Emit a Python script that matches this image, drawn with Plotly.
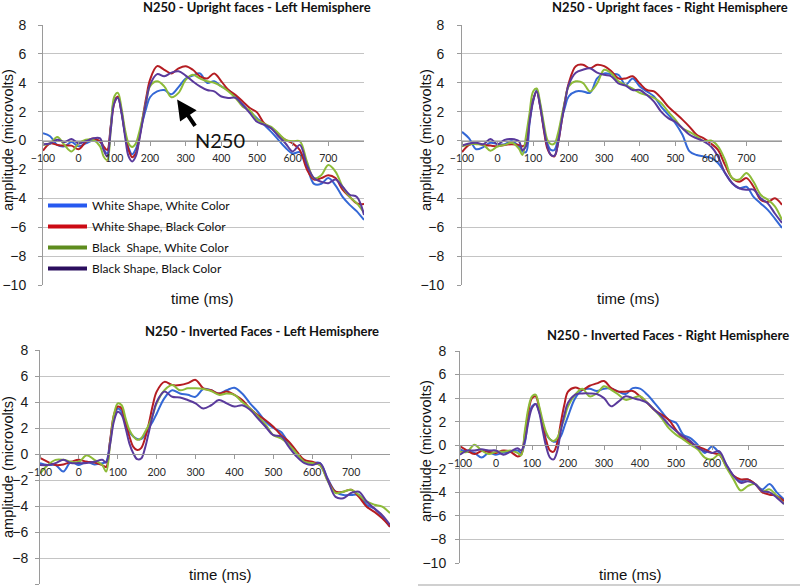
import plotly.graph_objects as go

# ---------------- data ----------------
time_ms = [-100, -80, -60, -40, -20, 0, 20, 40, 60, 70, 80, 90, 100, 110, 120, 130, 140,
           150, 160, 170, 180, 190, 200, 220, 240, 260, 280, 300, 320, 340, 360, 380,
           400, 420, 440, 460, 480, 500, 520, 540, 560, 580, 600, 620, 640, 660, 680,
           700, 720, 740, 760, 780, 800]

series_names = ["White Shape, White Color", "White Shape, Black Color",
                "Black  Shape, White Color", "Black Shape, Black Color"]

panel_titles = ["N250 - Upright faces - Left Hemisphere",
                "N250 - Upright faces - Right Hemisphere",
                "N250 - Inverted Faces - Left Hemisphere",
                "N250 - Inverted Faces - Right Hemisphere"]

x_tick_vals = [-100, 0, 100, 200, 300, 400, 500, 600, 700]
y_tick_vals = [-10, -8, -6, -4, -2, 0, 2, 4, 6, 8]

# Upright faces - Left hemisphere
ul_ww = [0.5, 0.3, -0.3, -0.4, -0.1, -0.4, -0.2, 0.0, -0.1,
         -0.6, -0.9, 1.0, 2.8, 3.0, 1.9, 0.5, -0.5, -0.95, -0.6, 0.3, 1.4, 2.3, 3.0,
         3.4, 3.5, 3.2, 3.7, 4.3, 4.5, 4.65, 4.0, 4.1, 3.75, 3.5, 3.05, 2.5, 2.0, 1.55,
         1.1, 0.6, 0.05, -0.5, -0.9, -0.8, -1.8, -3.0, -3.0, -2.6, -3.1, -3.9, -4.45, -4.9, -5.5]
ul_wb = [-0.7, -0.2, -0.3, -0.35, -0.35, -0.6, -0.1, 0.15, -0.05,
         -0.4, -0.65, 1.0, 2.6, 3.05, 2.0, 0.5, -0.65, -1.15, -0.9, 0.15, 1.65, 3.05, 4.2,
         5.15, 4.9, 4.65, 5.0, 5.15, 4.9, 4.45, 4.3, 4.65, 4.1, 3.5, 3.15, 2.7, 2.25, 1.95,
         1.2, 0.85, 0.4, 0.05, -0.2, -0.65, -2.0, -2.7, -2.6, -2.4, -2.6, -3.4, -3.9, -4.35, -4.4]
ul_bw = [-0.3, -0.2, 0.25, -0.3, -0.75, -0.2, 0.05, 0.05, -0.4,
         -1.1, -1.35, 0.75, 3.05, 3.3, 2.25, 0.75, -0.2, -0.45, -0.2, 0.6, 1.65, 2.8, 3.75,
         4.1, 3.75, 3.0, 3.3, 4.2, 4.55, 4.3, 4.1, 4.0, 3.75, 3.4, 2.95, 2.35, 2.1, 1.45,
         1.15, 0.95, 0.5, 0.05, -0.05, -0.05, -1.45, -2.6, -2.4, -1.7, -2.15, -3.2, -3.9, -4.35, -5.0]
ul_bb = [-0.25, -0.2, 0.05, -0.1, 0.1, -0.2, -0.05, 0.15, 0.15,
         -0.65, -1.1, 0.75, 2.6, 2.95, 2.0, 0.3, -1.1, -1.45, -1.1, 0.05, 1.45, 2.8, 3.85,
         4.6, 4.45, 4.7, 4.8, 4.5, 4.1, 3.75, 3.5, 3.4, 3.05, 2.95, 2.95, 2.45, 1.9, 1.3,
         1.1, 0.85, 0.3, -0.2, -0.75, -0.3, -1.7, -2.6, -2.85, -2.95, -2.7, -3.2, -3.75, -3.9, -5.15]

# Upright faces - Right hemisphere
ur_ww = [0.6, 0.15, -0.6, -0.45, -0.15, -0.25, -0.25, -0.05, -0.4,
         -0.75, -0.8, 1.2, 2.7, 3.5, 2.45, 0.95, -0.2, -0.65, -0.65, 0.15, 1.45, 2.35, 3.05,
         3.4, 3.4, 3.3, 4.3, 4.65, 4.6, 4.55, 3.85, 4.3, 3.75, 3.4, 3.05, 2.35, 1.8, 1.2,
         0.4, -0.75, -1.0, -1.1, -1.2, -1.55, -2.25, -2.95, -3.3, -3.2, -3.9, -4.35, -4.8, -5.4, -6.05]
ur_wb = [-0.8, -0.3, -0.2, -0.3, -0.35, -0.4, -0.3, -0.25, -0.3,
         -0.4, -0.2, 1.45, 2.8, 3.4, 2.35, 0.75, -0.55, -1.0, -1.1, -0.2, 1.3, 2.8, 3.95,
         5.15, 5.25, 5.0, 5.25, 5.15, 4.8, 4.3, 4.3, 4.45, 3.95, 3.5, 3.4, 2.95, 2.35, 1.9,
         1.45, 0.95, 0.4, 0.15, -0.2, -0.65, -1.7, -2.6, -2.85, -2.6, -3.2, -4.1, -4.25, -4.0, -4.45]
ur_bw = [-0.4, -0.25, -0.25, -0.3, -0.7, -0.4, -0.3, -0.15, -0.55,
         -1.0, 0.3, 1.9, 3.4, 3.6, 2.6, 1.2, 0.05, -0.25, -0.2, 0.5, 1.65, 2.8, 3.75,
         4.1, 4.0, 3.4, 3.95, 4.9, 4.65, 4.1, 3.85, 3.6, 3.3, 3.15, 2.95, 2.6, 2.0, 1.45,
         0.85, 0.6, 0.3, -0.05, 0.0, -0.4, -1.35, -2.6, -2.7, -2.25, -2.85, -3.75, -4.1, -4.55, -5.5]
ur_bb = [-0.35, -0.2, -0.15, -0.25, 0.1, -0.25, 0.05, 0.1, -0.05,
         -0.65, -0.4, 1.3, 2.8, 3.4, 2.35, 0.85, -0.4, -1.0, -1.05, -0.2, 1.3, 2.7, 3.85,
         4.7, 4.9, 5.0, 4.7, 4.55, 4.45, 3.95, 3.8, 3.5, 3.5, 3.15, 2.7, 2.0, 1.55, 1.3,
         0.85, 0.4, 0.15, -0.05, -0.4, -1.1, -2.25, -2.95, -3.3, -3.4, -3.4, -4.0, -4.35, -5.05, -5.7]

# Inverted faces - Left hemisphere
il_ww = [-0.7, -0.85, -0.85, -1.35, -0.6, -0.85, -0.6, -0.8, -0.7,
         -0.6, 0.95, 2.75, 3.5, 3.25, 2.35, 1.7, 1.35, 1.15, 1.15, 1.45, 2.0, 2.5, 3.1,
         4.3, 4.9, 4.65, 4.55, 4.4, 5.0, 4.9, 4.65, 4.9, 5.1, 4.65, 3.9, 3.25, 2.5, 2.0,
         1.7, 0.8, 0.05, -0.6, -0.7, -0.7, -1.9, -2.9, -3.15, -3.15, -3.15, -3.9, -4.2, -4.8, -5.6]
il_wb = [-0.3, -0.6, -0.85, -0.8, -0.6, -0.45, -0.6, -0.65, -0.85,
         -1.0, 0.95, 3.0, 3.65, 3.5, 2.35, 1.35, 0.55, 0.3, 0.45, 1.2, 2.35, 3.75, 4.8,
         5.55, 5.3, 5.3, 5.45, 5.7, 5.05, 4.9, 4.65, 4.8, 4.55, 4.15, 3.5, 3.0, 2.6, 2.1,
         1.45, 0.95, 0.2, -0.45, -0.6, -0.85, -2.0, -2.9, -2.9, -2.75, -3.3, -4.05, -4.45, -4.95, -5.6]
il_bw = [-1.5, -0.85, -0.45, -0.45, -0.6, -0.6, -0.1, -0.45, -0.85,
         -1.35, 0.7, 3.0, 3.9, 3.75, 2.75, 1.85, 1.35, 1.1, 1.2, 1.7, 2.25, 3.0, 3.9,
         4.9, 5.3, 4.9, 5.05, 5.05, 5.0, 4.85, 4.55, 4.65, 4.55, 4.0, 3.5, 2.9, 2.25, 1.45,
         1.2, 0.7, 0.05, -0.6, -0.7, -0.85, -2.1, -3.0, -2.9, -2.75, -3.15, -3.65, -3.9, -4.05, -4.55]
il_bb = [-0.85, -0.85, -0.7, -0.45, -0.7, -0.7, -0.7, -0.6, -0.45,
         -0.65, 0.7, 2.5, 3.25, 3.0, 2.0, 0.8, 0.05, -0.4, -0.35, 0.45, 1.7, 3.0, 4.0,
         4.8, 4.4, 4.35, 4.15, 3.9, 3.5, 3.75, 4.15, 3.9, 3.65, 3.75, 3.4, 2.75, 2.1, 1.45,
         1.35, 0.55, -0.2, -0.7, -0.85, -0.7, -2.0, -3.3, -3.4, -3.0, -2.9, -3.65, -4.2, -4.7, -5.45]

# Inverted faces - Right hemisphere
ir_ww = [-0.35, -0.55, -0.65, -1.05, -0.65, -0.8, -0.65, -0.55, -0.45,
         -0.65, 0.2, 2.3, 3.3, 3.5, 2.85, 1.75, 0.9, 0.5, 0.3, 0.35, 0.75, 1.6, 2.45,
         4.0, 4.7, 4.8, 4.6, 4.8, 4.8, 4.55, 4.35, 4.85, 4.8, 4.3, 3.6, 2.85, 2.15, 1.9,
         0.9, 0.6, 0.05, -0.65, -0.1, -0.65, -1.65, -2.6, -3.05, -2.9, -3.3, -3.75, -3.3, -4.0, -4.6]
ir_wb = [-0.1, -0.45, -0.75, -0.5, -0.55, -0.65, -0.45, -0.55, -0.95,
         -0.8, 0.9, 2.85, 4.0, 4.15, 3.15, 1.6, 0.35, -0.45, -0.55, 0.2, 1.9, 3.45, 4.55,
         4.9, 4.7, 5.05, 5.25, 5.45, 4.85, 4.55, 4.55, 4.6, 4.15, 3.6, 3.0, 2.6, 2.15, 1.3,
         0.6, 0.2, -0.1, -0.35, -0.65, -0.8, -1.8, -2.6, -2.9, -2.9, -3.3, -4.0, -4.2, -4.3, -4.75]
ir_bw = [-0.55, -0.55, 0.05, -0.45, -0.75, -0.55, -0.55, -0.45, -0.65,
         -0.85, 1.2, 3.15, 4.15, 4.3, 3.3, 2.05, 1.05, 0.5, 0.35, 0.6, 1.45, 2.3, 3.3,
         4.3, 4.8, 4.15, 4.4, 5.0, 4.7, 4.3, 3.85, 4.0, 4.15, 3.6, 3.0, 2.3, 1.45, 0.9,
         0.5, 0.05, -0.35, -1.05, -1.2, -0.8, -1.9, -2.9, -3.85, -3.45, -3.3, -3.9, -3.75, -4.3, -5.0]
ir_bb = [-0.8, -0.45, -0.45, -0.35, -0.45, -0.45, -0.8, -0.55, -0.25,
         -0.45, 0.35, 2.0, 3.15, 3.5, 2.75, 1.2, -0.2, -1.05, -1.2, -0.5, 1.2, 2.6, 3.6,
         4.3, 4.4, 4.4, 4.35, 4.0, 3.3, 3.7, 4.15, 4.0, 3.85, 3.6, 3.0, 2.45, 1.75, 1.2,
         0.75, 0.35, -0.2, -0.5, -0.65, -0.5, -1.65, -2.6, -3.2, -3.05, -3.3, -3.9, -4.0, -4.45, -5.0]

panels_data = [
    [ul_ww, ul_wb, ul_bw, ul_bb],
    [ur_ww, ur_wb, ur_bw, ur_bb],
    [il_ww, il_wb, il_bw, il_bb],
    [ir_ww, ir_wb, ir_bw, ir_bb],
]

# ---------------- styling / layout ----------------
W, H = 800, 588
line_colors = ["#3468D6", "#B51D22", "#8DBB38", "#5A3A9C"]
legend_colors = ["#2659F0", "#CC0A14", "#5E8C1E", "#2B0E5E"]

# panel boxes in pixels: (left, right, top(y=8), bottom(y=-10))
boxes = [(43, 364, 25, 285), (462, 782, 25, 285), (40, 390, 350, 584), (460, 784, 351, 563)]
title_pos = [(257, 7), (670, 7), (262, 331), (668, 335)]
xtitle_pos = [(203, 298), (628, 298), (220, 574), (630, 574)]
ytitle_pos = [(8, 140), (426, 140), (8, 467), (426, 451)]
standoffs = [9, 10, 4, 6]

def px(x):
    return x / W

def py(y):
    return 1 - y / H

fig = go.Figure()
layout = {}
annotations = []

def label(text, x, y, font, angle=0):
    return dict(text=text, x=px(x), y=py(y), xref="paper", yref="paper",
                xanchor="center", yanchor="middle", showarrow=False,
                textangle=angle, font=font)

for i, (box, data) in enumerate(zip(boxes, panels_data)):
    n = i + 1
    xa = "x" if n == 1 else f"x{n}"
    ya = "y" if n == 1 else f"y{n}"
    l, r, t, b = box
    y_lo, y_hi = py(b), py(t)
    zero_pos = y_lo + (10 / 18) * (y_hi - y_lo)
    for s_i, vals in enumerate(data):
        fig.add_trace(go.Scatter(
            x=time_ms, y=vals, mode="lines", xaxis=xa, yaxis=ya,
            line=dict(color=line_colors[s_i], width=2, shape="spline", smoothing=1.0),
            name=series_names[s_i], showlegend=False, hoverinfo="x+y+name"))
    layout[f"xaxis{'' if n == 1 else n}"] = dict(
        domain=[px(l), px(r)], range=[-100, 800], anchor="free", position=zero_pos,
        tickmode="array", tickvals=x_tick_vals, showgrid=False, zeroline=False,
        showline=True, linecolor="#9a9a9a", linewidth=1, automargin=False,
        ticks="outside", ticklen=4, tickcolor="#9a9a9a", ticklabelstandoff=4,
        tickfont=dict(family="Lato", size=10.5, color="#2a2a2a"))
    layout[f"yaxis{'' if n == 1 else n}"] = dict(
        domain=[y_lo, y_hi], range=[-10, 8], anchor=xa, automargin=False,
        tickmode="array", tickvals=y_tick_vals, showgrid=True, gridcolor="#c4c4c4",
        gridwidth=1, zeroline=False, showline=True, linecolor="#9a9a9a", linewidth=1,
        ticks="outside", ticklen=4, tickcolor="#9a9a9a", ticklabelstandoff=standoffs[i],
        tickfont=dict(family="Liberation Sans, Arial", size=14, color="#1a1a1a"))
    tx, ty = title_pos[i]
    annotations.append(label(f"<b>{panel_titles[i]}</b>", tx, ty,
                             dict(family="Lato", size=13, color="#111111")))
    xx, xy = xtitle_pos[i]
    annotations.append(label("time (ms)", xx, xy,
                             dict(family="Liberation Sans, Arial", size=15, color="#111111")))
    yx, yy = ytitle_pos[i]
    annotations.append(label("amplitude (microvolts)", yx, yy,
                             dict(family="Liberation Sans, Arial", size=14.5, color="#111111"),
                             angle=-90))

# legend entries (legend-only traces)
for s_i, name in enumerate(series_names):
    fig.add_trace(go.Scatter(x=[None], y=[None], mode="lines", name=name,
                             legendgroup=name, xaxis="x", yaxis="y",
                             line=dict(color=legend_colors[s_i], width=4)))

# N250 arrow + label
annotations.append(dict(x=276, y=2.85, xref="x", yref="y", text="", showarrow=True,
                        ax=19, ay=28, arrowhead=2, arrowsize=1.0, arrowwidth=4,
                        arrowcolor="#000000"))
annotations.append(label("N250", 220, 140, dict(family="Lato", size=20, color="#111111")))

fig.update_layout(
    **layout,
    annotations=annotations,
    shapes=[dict(type="line", xref="paper", yref="paper", x0=px(418), x1=1.0,
                 y0=py(585), y1=py(585), line=dict(color="#d0d0d0", width=2))],
    width=W, height=H,
    margin=dict(l=0, r=0, t=0, b=0, autoexpand=False),
    paper_bgcolor="white", plot_bgcolor="white",
    showlegend=True,
    legend=dict(x=px(43), y=py(191), xanchor="left", yanchor="top", itemwidth=39,
                bgcolor="rgba(0,0,0,0)", borderwidth=0, tracegroupgap=2,
                font=dict(family="Lato", size=12, color="#111111")),
)

fig.write_html("out.html", config={"displayModeBar": False},
               post_script="document.body.style.margin='0';document.body.style.overflow='hidden';")
